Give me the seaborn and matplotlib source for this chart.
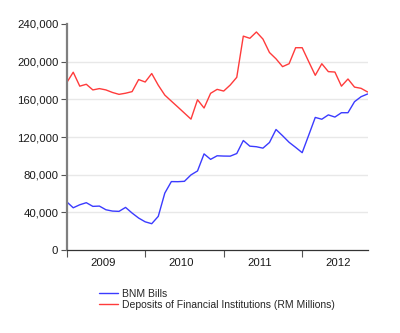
import numpy as np
import pandas as pd
import matplotlib
matplotlib.use("Agg")
import matplotlib.pyplot as plt
import seaborn as sns
from matplotlib.ticker import FuncFormatter

# Monthly series, Jan 2009 - Nov 2012 (RM millions)
months = pd.date_range("2009-01-01", "2012-11-01", freq="MS").strftime("%Y-%m").tolist()

bnm_bills = [
    51300, 44900, 48100, 50300, 46400, 46700, 42800, 41400, 41100, 45300, 39300, 34000,
    30000, 28000, 35800, 60500, 72700, 72600, 73000, 79800, 84000, 102100, 96300, 100100,
    99800, 99700, 102500, 116300, 110300, 109700, 108200, 114200, 128000, 121400, 114400, 109000,
    103400, 122000, 140800, 138900, 143500, 141200, 145800, 145800, 157500, 162800, 165700,
]

deposits = [
    177600, 188800, 174000, 176000, 170000, 171400, 170000, 167300, 165300, 166500, 168200, 181000,
    178400, 187400, 175000, 164500, 158100, 151800, 145400, 139000, 159600, 150800, 166400, 170600,
    168800, 175200, 183400, 227100, 224800, 231500, 224000, 209700, 203000, 194700, 197800, 214800,
    214800, 200000, 185500, 197800, 189400, 189000, 174000, 181600, 173000, 171700, 167800,
]

series_names = ["BNM Bills", "Deposits of Financial Institutions (RM Millions)"]
series_colors = ["#3b3bff", "#ff3b3b"]

year_labels = ["2009", "2010", "2011", "2012"]
y_ticks = [0, 40000, 80000, 120000, 160000, 200000, 240000]

df = pd.DataFrame({
    "idx": np.arange(len(months)),
    series_names[0]: bnm_bills,
    series_names[1]: deposits,
})
long = df.melt(id_vars="idx", var_name="series", value_name="value")

sns.set_theme(style="white")
plt.rcParams["font.family"] = ["Liberation Sans", "DejaVu Sans"]

FS = 8.2
LEG_FS = 7.5

fig = plt.figure(figsize=(4.0, 3.33), dpi=100)
ax = fig.add_axes([0.1667, 0.249, 0.7523, 0.679])

sns.lineplot(data=long, x="idx", y="value", hue="series",
             palette=dict(zip(series_names, series_colors)),
             linewidth=1.0, ax=ax, legend=False)

n = len(months)
ax.set_xlim(0, n - 1)
ax.set_ylim(0, 240000)

# Year boundaries as ticks, year names centred between them
ax.set_xticks([0, 12, 24, 36])
ax.set_xticklabels([])
ax.set_xticks([5.5, 17.5, 29.5, 41.5], minor=True)
ax.set_xticklabels(year_labels, minor=True)
ax.tick_params(axis="x", which="major", direction="out", length=5, width=0.8,
               color="#555555", bottom=True)
ax.tick_params(axis="x", which="minor", length=0, pad=6, labelsize=FS,
               labelcolor="#1a1a1a")

ax.set_yticks(y_ticks)
ax.yaxis.set_major_formatter(FuncFormatter(lambda v, _: f"{int(v):,}"))
ax.tick_params(axis="y", direction="out", length=4, width=0.8, color="#555555",
               left=True, labelsize=FS, labelcolor="#1a1a1a", pad=2)

for v in y_ticks[1:-1]:
    ax.axhline(v, color="#e8e8e8", linewidth=1.0, zorder=0)

ax.set_xlabel("")
ax.set_ylabel("")
for side in ["top", "right"]:
    ax.spines[side].set_visible(False)
ax.spines["left"].set_color("#7f7f7f")
ax.spines["left"].set_linewidth(1.6)
ax.spines["bottom"].set_color("#333333")
ax.spines["bottom"].set_linewidth(0.9)

handles = [plt.Line2D([], [], color=c, linewidth=1.0) for c in series_colors]
fig.legend(handles, series_names, loc="upper left", bbox_to_anchor=(0.2475, 0.133),
           frameon=False, fontsize=LEG_FS, handlelength=1.85, handletextpad=0.4,
           labelspacing=0.12, borderpad=0, borderaxespad=0)

fig.savefig("out.png", dpi=100)
